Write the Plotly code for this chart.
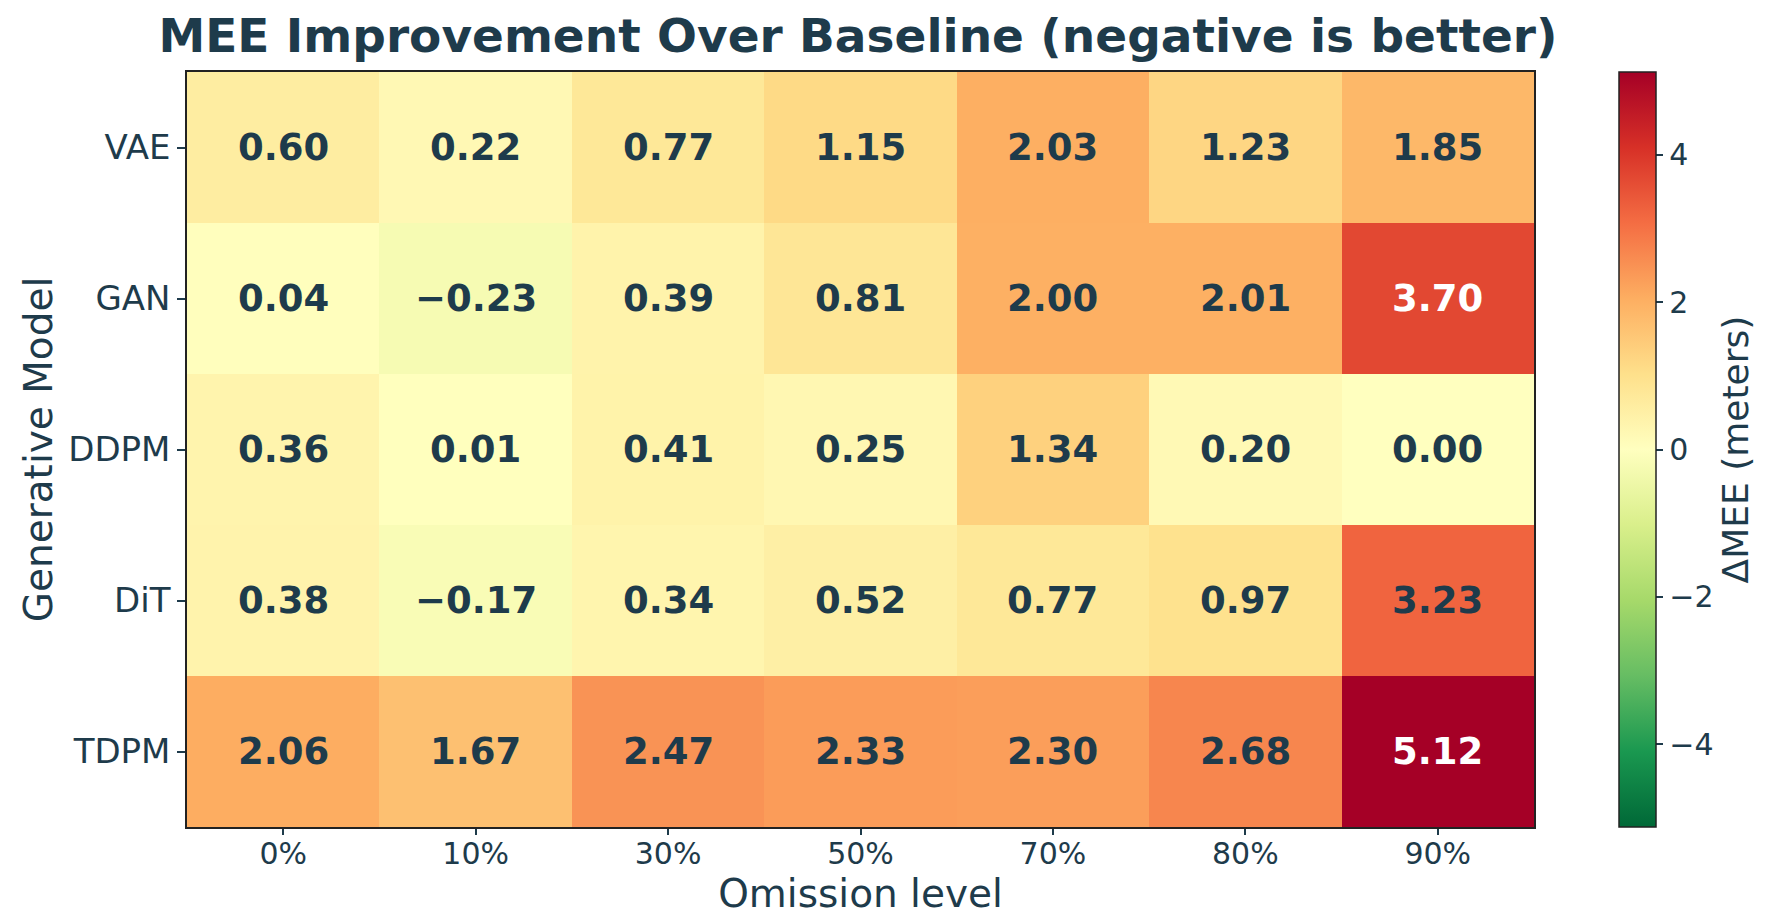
import numpy as np
import plotly.graph_objects as go

# delta MEE per generative model (rows) and omission level (cols)
models = ["VAE", "GAN", "DDPM", "DiT", "TDPM"]
omission = ["0%", "10%", "30%", "50%", "70%", "80%", "90%"]
vae = [0.60, 0.22, 0.77, 1.15, 2.03, 1.23, 1.85]
gan = [0.04, -0.23, 0.39, 0.81, 2.00, 2.01, 3.70]
ddpm = [0.36, 0.01, 0.41, 0.25, 1.34, 0.20, 0.00]
dit = [0.38, -0.17, 0.34, 0.52, 0.77, 0.97, 3.23]
tdpm = [2.06, 1.67, 2.47, 2.33, 2.30, 2.68, 5.12]
cbar_ticks = [-4, -2, 0, 2, 4]

INK = "#1e3b4b"
FONT = "DejaVu Sans"

z = np.array([vae, gan, ddpm, dit, tdpm])
vmax = np.abs(z).max()

# matplotlib RdYlGn_r
rdylgn = ['rgb(165,0,38)', 'rgb(215,48,39)', 'rgb(244,109,67)', 'rgb(253,174,97)',
          'rgb(254,224,139)', 'rgb(255,255,191)', 'rgb(217,239,139)', 'rgb(166,217,106)',
          'rgb(102,189,99)', 'rgb(26,152,80)', 'rgb(0,104,55)']
cscale = [[i / 10, c] for i, c in enumerate(rdylgn[::-1])]

fig = go.Figure()
fig.add_trace(go.Heatmap(
    z=z, x=omission, y=models, colorscale=cscale, zmin=-vmax, zmax=vmax,
    xgap=0, ygap=0, hoverinfo="skip",
    colorbar=dict(
        x=1.063, xanchor="left", y=0.5, yanchor="middle", len=1, lenmode="fraction",
        xpad=0, ypad=0, thickness=37, outlinewidth=1.5, outlinecolor="#222",
        tickvals=cbar_ticks, ticktext=[str(t).replace("-", "\u2212") for t in cbar_ticks],
        ticks="outside", ticklen=7, tickwidth=1.5, tickcolor=INK,
        tickfont=dict(family=FONT, size=30, color=INK),
        title=dict(text="\u0394MEE (meters)", side="right",
                   font=dict(family=FONT, size=36, color=INK)),
    ),
))

# value labels in each cell
for i, m in enumerate(models):
    for j, o in enumerate(omission):
        v = z[i, j]
        fig.add_annotation(
            x=o, y=m, text="<b>" + f"{v:.2f}".replace("-", "\u2212") + "</b>",
            showarrow=False,
            font=dict(family=FONT, size=37, color="white" if abs(v) > 3.5 else INK),
        )

fig.update_xaxes(
    title=dict(text="Omission level", font=dict(family=FONT, size=39, color=INK), standoff=2),
    tickfont=dict(family=FONT, size=30, color=INK), ticklabelstandoff=-7,
    ticks="outside", ticklen=6, tickwidth=1.5, tickcolor=INK,
    showline=True, mirror=True, linecolor="#222", linewidth=1.5, showgrid=False,
)
fig.update_yaxes(
    title=dict(text="Generative Model", font=dict(family=FONT, size=39, color=INK), standoff=4),
    tickfont=dict(family=FONT, size=34, color=INK),
    ticks="outside", ticklen=8, tickwidth=1.5, tickcolor=INK,
    showline=True, mirror=True, linecolor="#222", linewidth=1.5, showgrid=False,
    autorange="reversed",
)
fig.update_layout(
    width=1769, height=924,
    margin=dict(l=187, r=235, t=72, b=97, autoexpand=False),
    paper_bgcolor="white", plot_bgcolor="white",
    title=dict(text="<b>MEE Improvement Over Baseline (negative is better)</b>",
               x=0.485, xanchor="center", y=0.962, yanchor="middle",
               font=dict(family=FONT, size=47, color=INK)),
)

# drop the default page margin so the figure sits at the window's top-left
fig.write_html("out.html", config={"displayModeBar": False},
               post_script="document.body.style.margin='0';")
